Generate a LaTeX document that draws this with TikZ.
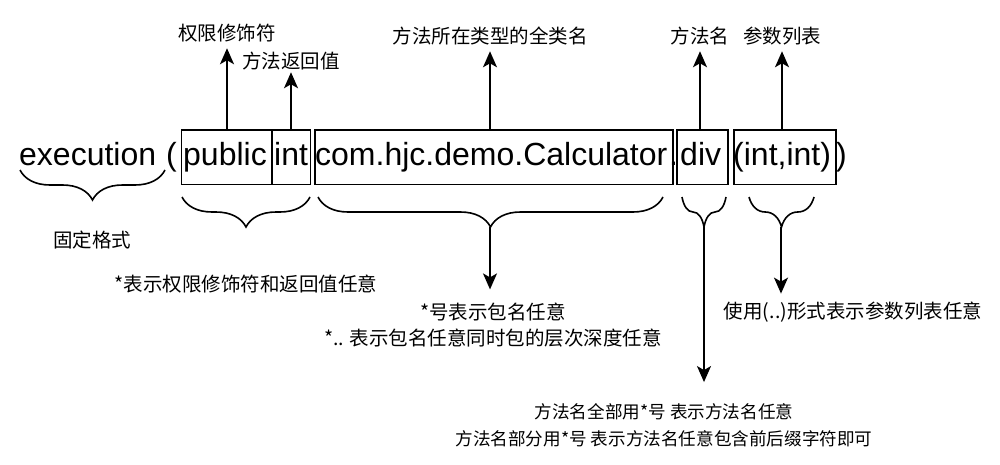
\documentclass[tikz,border=0pt]{standalone}
\usepackage{fontspec}
\setmainfont{Liberation Sans}
\newfontfamily\cjk{Noto Sans CJK SC}
\usetikzlibrary{arrows.meta,positioning,decorations.pathreplacing}
\tikzset{
  token/.style={anchor=base west, inner sep=0pt, font=\fontsize{32}{38}\selectfont},
  part/.style={draw, line width=1.6pt, inner sep=0pt, minimum height=54.5pt},
  lbl/.style={font=\cjk\fontsize{19.5}{26.5}\selectfont, align=center, inner sep=2pt},
  smalllbl/.style={lbl, font=\cjk\fontsize{17.6}{27}\selectfont},
  arrow/.style={-{Stealth[length=16pt,width=14pt,inset=4pt]}, line width=1.6pt},
  curly/.style={decorate, decoration={brace, mirror, amplitude=30pt}, line width=1.6pt}
}

\begin{document}
\begin{tikzpicture}[x=1pt,y=-1pt]
  \useasboundingbox (0,0) rectangle (1000,465);

  % the expression
  \node[token] (exe) at (19,165) {execution};
  \node[token] (lpar) at (166,165) {(};
  \node[token] (pub) at (183,165) {public};
  \node[token] (ret) at (274,165) {int};
  \node[token] (cls) at (315,165) {com.hjc.demo.Calculator};
  \node[token] (dot) at (669,165) {.};
  \node[token] (mth) at (680,165) {div};
  \node[token] (args) at (733,165) {(int,int)};
  \node[token] (rpar) at (836,165) {)};

  % boxes round the parts
  \node[part, minimum width=90.5pt] (bpub) at (226.75,157.25) {};
  \node[part, minimum width=38.5pt] (bret) at (291.25,157.25) {};
  \node[part, minimum width=358pt] (bcls) at (494,157.25) {};
  \node[part, minimum width=51pt] (bmth) at (702.5,157.25) {};
  \node[part, minimum width=102pt] (bargs) at (785,157.25) {};

  % braces below
  \draw[curly] (20,170) -- (165,170);
  \draw[curly] (182,197) -- (310,197);
  \draw[curly] (318,197) -- (663,197);
  \draw[curly] (682,197) -- (726,197);
  \draw[curly] (749,197) -- (814,197);
  \coordinate (tcls) at (490,227);
  \coordinate (tmth) at (704,227);
  \coordinate (targs) at (781,227);

  % labels
  \node[lbl] (lmod) at (227,33) {权限修饰符};
  \node[lbl] (lret) at (291,61) {方法返回值};
  \node[lbl] (lcls) at (490,36) {方法所在类型的全类名};
  \node[lbl] (lmth) at (700,36) {方法名};
  \node[lbl] (largs) at (782,36) {参数列表};
  \node[lbl] (lfix) at (92,240) {固定格式};
  \node[lbl] (lany) at (246,284) {*表示权限修饰符和返回值任意};
  \node[lbl] (lpkg) at (493,325) {*号表示包名任意\\*.. 表示包名任意同时包的层次深度任意};
  \node[smalllbl] (lname) at (664,425) {方法名全部用*号 表示方法名任意\\方法名部分用*号 表示方法名任意包含前后缀字符即可};
  \node[lbl] (lparam) at (853,312) {使用(..)形式表示参数列表任意};

  \draw[arrow, shorten >=4pt] (lmod |- bpub.north) -- (lmod.south);
  \draw[arrow] (lret |- bret.north) -- (lret.south);
  \draw[arrow, shorten >=4pt] (lcls |- bcls.north) -- (lcls.south);
  \draw[arrow, shorten >=4pt] (lmth |- bmth.north) -- (lmth.south);
  \draw[arrow, shorten >=4pt] (largs |- bargs.north) -- (largs.south);
  \draw[arrow, shorten >=11pt] (tcls) -- (tcls |- lpkg.north);
  \draw[arrow, shorten >=19pt] (tmth) -- (tmth |- lname.north);
  \draw[arrow, shorten >=6pt] (targs) -- (targs |- lparam.north);
\end{tikzpicture}
\end{document}
